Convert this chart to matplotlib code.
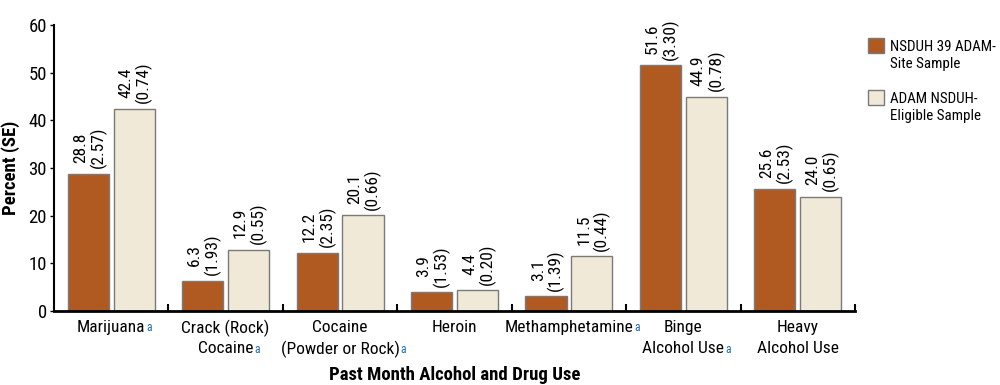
import matplotlib
matplotlib.use('Agg')
import matplotlib.pyplot as plt
from matplotlib.patches import Rectangle

# Data
categories = [['Marijuana'], ['Crack (Rock)', 'Cocaine'], ['Cocaine', '(Powder or Rock)'],
              ['Heroin'], ['Methamphetamine'], ['Binge', 'Alcohol Use'], ['Heavy', 'Alcohol Use']]
footnote = [True, True, True, False, True, True, False]
site_pct = [28.8, 6.3, 12.2, 3.9, 3.1, 51.6, 25.6]
site_se = ['2.57', '1.93', '2.35', '1.53', '1.39', '3.30', '2.53']
elig_pct = [42.4, 12.9, 20.1, 4.4, 11.5, 44.9, 24.0]
elig_se = ['0.74', '0.55', '0.66', '0.20', '0.44', '0.78', '0.65']
series_names = ['NSDUH 39 ADAM-\nSite Sample', 'ADAM NSDUH-\nEligible Sample']
yticks = [0, 10, 20, 30, 40, 50, 60]

brown = '#B05A22'
cream = '#F1E9D8'
edge = '#7a7a7a'
blue = '#1f6db3'

plt.rcParams['font.family'] = ['Roboto Condensed', 'Archivo Narrow', 'Liberation Sans', 'DejaVu Sans']
plt.rcParams['font.size'] = 12

fig = plt.figure(figsize=(10, 3.85), dpi=100)
ax = fig.add_axes([0.054, 0.192, 0.801, 0.743])

w = 0.36
off = 0.2
x = list(range(len(categories)))
ax.bar([i - off for i in x], site_pct, width=w, color=brown, edgecolor=edge, linewidth=1)
ax.bar([i + off for i in x], elig_pct, width=w, color=cream, edgecolor=edge, linewidth=1)

# rotated value labels
for i in x:
    ax.annotate('%.1f\n(%s)' % (site_pct[i], site_se[i]), (i - off, site_pct[i]),
                xytext=(1, 4), textcoords='offset points', rotation=90,
                ha='center', va='bottom', fontsize=12.5, linespacing=1.1)
    ax.annotate('%.1f\n(%s)' % (elig_pct[i], elig_se[i]), (i + off, elig_pct[i]),
                xytext=(1, 4), textcoords='offset points', rotation=90,
                ha='center', va='bottom', fontsize=12.5, linespacing=1.1)

ax.set_xlim(-0.5, len(categories) - 0.5)
ax.set_ylim(0, 60)
ax.set_yticks(yticks)
ax.set_xticks([i + 0.5 for i in x[:-1]] + [len(categories) - 0.5])
ax.set_xticklabels([])
ax.tick_params(axis='x', direction='in', length=5, width=1.5)
ax.tick_params(axis='y', direction='out', length=3, width=1, labelsize=13.5, pad=2)

for s in ['top', 'right']:
    ax.spines[s].set_visible(False)
ax.spines['bottom'].set_linewidth(2)
ax.spines['left'].set_linewidth(1.5)

# category labels, one text per line so the footnote mark sits after the last line
trans = ax.get_xaxis_transform()
for i, lines in enumerate(categories):
    last = None
    for j, line in enumerate(lines):
        last = ax.text(i, -0.03 - j * 0.075, line, transform=trans, ha='center', va='top',
                       fontsize=12.5)
    if footnote[i]:
        ax.annotate('a', xy=(1, 1), xycoords=last, xytext=(0.5, -1), textcoords='offset points',
                    ha='left', va='top', fontsize=8.5, color=blue)

ax.set_xlabel('Past Month Alcohol and Drug Use', fontsize=13.5, fontweight='bold', labelpad=36)
ax.set_ylabel('Percent (SE)', fontsize=13.5, fontweight='bold', labelpad=6)

# legend drawn by hand so each swatch lines up with the first line of its label
for k, (name, col) in enumerate(zip(series_names, [brown, cream])):
    top = 38 + k * 52  # pixels from the top of the figure
    fig.add_artist(Rectangle((0.868, 1 - (top + 15) / 385), 0.016, 15 / 385,
                             transform=fig.transFigure, facecolor=col, edgecolor=edge, linewidth=1))
    fig.text(0.890, 1 - (top + 2) / 385, name, ha='left', va='top', fontsize=10.8, linespacing=1.25)

fig.savefig('out.png', dpi=100)
